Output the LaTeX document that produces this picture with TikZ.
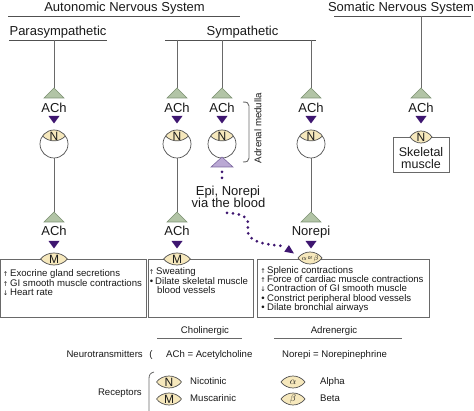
\documentclass[tikz,border=0pt]{standalone}
\usepackage{fontspec}
\setmainfont{Liberation Sans}
\newfontfamily\symfont{DejaVu Sans}
\usetikzlibrary{arrows.meta}
\definecolor{lgray}{RGB}{80,80,80}
\definecolor{vgray}{RGB}{105,105,105}
\definecolor{greenf}{RGB}{178,196,166}
\definecolor{greend}{RGB}{125,145,115}
\definecolor{purp}{RGB}{62,22,112}
\definecolor{lavf}{RGB}{186,168,212}
\definecolor{lavd}{RGB}{125,105,160}
\definecolor{eyef}{RGB}{246,232,188}
\definecolor{txt}{RGB}{25,25,25}
\tikzset{
 big/.style={font=\fontsize{13pt}{15pt}\selectfont, inner sep=0pt, text=txt},
 mid/.style={font=\fontsize{12.5pt}{14pt}\selectfont, inner sep=0pt, text=txt},
 small/.style={font=\fontsize{9.6pt}{11pt}\selectfont, inner sep=0pt, text=txt},
 rlab/.style={font=\fontsize{12pt}{13pt}\selectfont, inner sep=0pt, text=txt},
 ablab/.style={font=\fontsize{7pt}{7pt}\selectfont, inner sep=0pt, text=txt},
 glab/.style={font=\fontsize{10pt}{10pt}\selectfont, inner sep=0pt, text=txt},
 hline/.style={draw=lgray, line width=0.9pt},
 vline/.style={draw=vgray, line width=0.9pt},
 boxline/.style={draw=vgray, line width=0.8pt},
 eyeline/.style={draw=lgray, line width=0.7pt},
 dotline/.style={draw=purp, line width=3pt, line cap=round, dash pattern=on 0pt off 6pt},
}
\newcommand\GreenTri[2]{%
  \filldraw[fill=greenf, draw=greend, line width=0.6pt] (#1,88) -- ({#1+10},98) -- ({#1-10},98) -- cycle;}
\newcommand\GreenTriLow[2]{%
  \filldraw[fill=greenf, draw=greend, line width=0.6pt] (#1,#2) -- ({#1+10},{#2+10}) -- ({#1-10},{#2+10}) -- cycle;}
\newcommand\PurpTri[2]{%
  \fill[purp] ({#1-5.5},#2) -- ({#1+5.5},#2) -- (#1,{#2+7.5}) -- cycle;}
\newcommand\Eye[6]{%
  \filldraw[fill=eyef, eyeline] ({#2-#4},#3) .. controls ({#2-#4/2},{#3-8}) and ({#2+#4/2},{#3-8}) .. ({#2+#4},#3) .. controls ({#2+#4/2},{#3+8}) and ({#2-#4/2},{#3+8}) .. cycle;
  \node[#6] (#1) at (#2,{#3+0.5}) {#5};}
\newcommand\NBody[2]{%
  \fill[white] (#2,144) circle (14pt);
  \begin{scope}
    \clip (#2,144) circle (14pt);
    \fill[eyef] ({#2-11.5},136) .. controls ({#2-5},142.5) and ({#2+5},142.5) .. ({#2+11.5},136) -- ({#2+16},128) -- ({#2+16},120) -- ({#2-16},120) -- ({#2-16},128) -- cycle;
  \end{scope}
  \draw[eyeline] ({#2-11.5},136) .. controls ({#2-5},142.5) and ({#2+5},142.5) .. ({#2+11.5},136);
  \draw[eyeline] (#2,144) circle (14pt);
  \node[rlab] (#1-n) at (#2,136.5) {N};
  \coordinate (#1-cb) at (#2,158);}
\begin{document}
\begin{tikzpicture}[x=1pt,y=-1pt]
\useasboundingbox (0,0) rectangle (474,411);
\clip (0,0) rectangle (474,411);

% headings
\node[big, anchor=base] (ans) at (124.5,12) {Autonomic Nervous System};
\draw[hline] (8,16) -- (240,16);
\node[big, anchor=base] (sns) at (401,12) {Somatic Nervous System};
\draw[hline] (334,16) -- (471,16);
\node[big, anchor=base] (para) at (58,36) {Parasympathetic};
\draw[hline] (9,40) -- (107,40);
\node[big, anchor=base] (symp) at (242.5,36) {Sympathetic};
\draw[hline] (165,40) -- (316,40);

% upper columns
\foreach \n/\x/\ty in {pa/54/40, sa/177/40, sb/222/40, sc/311/40, so/421/16}{
  \coordinate (\n-top) at (\x,\ty);
  \coordinate (\n-g1) at (\x,88);
  \draw[vline] (\n-top) -- (\n-g1);
  \GreenTri{\x}{88}
  \node[big, anchor=base] (\n-ach) at (\x,113) {ACh};
  \PurpTri{\x}{116}
}
\foreach \n/\x in {pa/54, sa/177, sb/222, sc/311}{
  \NBody{\n}{\x}
}

% somatic target
\draw[boxline] (393,137) rectangle (449,172);
\Eye{so-n}{421}{137}{11}{N}{rlab}
\node[mid, anchor=base] (skel) at (421,157) {Skeletal};
\node[mid, anchor=base] (musc) at (421,168.5) {muscle};

% adrenal medulla
\draw[vline] (243,102) .. controls (247,102) and (249,103) .. (249,106) -- (249,158) .. controls (249,161) and (247,162) .. (243,162);
\node[font=\fontsize{9.7pt}{11pt}\selectfont, inner sep=0pt, text=txt, rotate=90] (adm) at (258,128) {Adrenal medulla};
\filldraw[fill=lavf, draw=lavd, line width=0.6pt] (222,157) -- (233,167) -- (211,167) -- cycle;
\coordinate (sb-lav) at (222,167);
\node[big, anchor=base] (epi) at (228,196) {Epi, Norepi};
\node[big, anchor=base] (blood) at (228.5,208) {via the blood};
\draw[dotline] ([yshift=-5pt]sb-lav) -- ([yshift=4pt]epi.north -| sb-lav);

% boxes
\draw[boxline] (0.5,259) rectangle (146,317);
\draw[boxline] (148,259) rectangle (253,317);
\draw[boxline] (257,259) rectangle (429,317);

% lower columns
\foreach \n/\x/\lab in {pa/54/ACh, sa/177/ACh, sc/311/Norepi}{
  \coordinate (\n-g2) at (\x,212);
  \draw[vline] (\n-cb) -- (\n-g2);
  \GreenTriLow{\x}{212}
  \node[big, anchor=base] (\n-lab2) at (\x,236) {\lab};
  \PurpTri{\x}{241}
}
\Eye{pa-m}{54}{259}{13.5}{M}{rlab}
\Eye{sa-m}{177}{259}{13.5}{M}{rlab}
\Eye{sc-ab}{310}{258}{12}{$\alpha$\,{\fontsize{5pt}{5pt}\selectfont\raisebox{1.2pt}{or}}\,$\beta$}{ablab}

% blood route
\coordinate (bl-s) at (227,213);
\coordinate (bl-e) at (284,246);
\draw[dotline] (bl-s) .. controls (240,213) and (250,217) .. (248,226) .. controls (246,236) and (250,244) .. (bl-e);
\fill[purp] (294,253.5) -- (284.3,251.7) -- (288.9,245.1) -- cycle;

% box texts
\newcommand\up{{\symfont\fontsize{6.5pt}{6.5pt}\selectfont ↑}}
\newcommand\dn{{\symfont\fontsize{6.5pt}{6.5pt}\selectfont ↓}}
\node[small, anchor=base] (b1a) at (5.5,277) {\up};
\node[small, anchor=base west] (b1at) at (10,277) {Exocrine gland secretions};
\node[small, anchor=base] (b1b) at (5.5,286.5) {\up};
\node[small, anchor=base west] (b1bt) at (10,286.5) {GI smooth muscle contractions};
\node[small, anchor=base] (b1c) at (5.5,296) {\dn};
\node[small, anchor=base west] (b1ct) at (10,296) {Heart rate};

\node[small, anchor=base] (b2a) at (151.5,275) {\up};
\node[small, anchor=base west] (b2at) at (156,275) {Sweating};
\node[small, anchor=base] (b2b) at (151.5,285) {•};
\node[small, anchor=base west] (b2bt) at (155,285) {Dilate skeletal muscle};
\node[small, anchor=base west] (b2ct) at (157,294) {blood vessels};

\node[small, anchor=base] (b3a) at (263,273.5) {\up};
\node[small, anchor=base west] (b3at) at (267,273.5) {Splenic contractions};
\node[small, anchor=base] (b3b) at (263,282.7) {\up};
\node[small, anchor=base west] (b3bt) at (267,282.7) {Force of cardiac muscle contractions};
\node[small, anchor=base] (b3c) at (263,291.9) {\dn};
\node[small, anchor=base west] (b3ct) at (267,291.9) {Contraction of GI smooth muscle};
\node[small, anchor=base] (b3d) at (263,301.1) {•};
\node[small, anchor=base west] (b3dt) at (267,301.1) {Constrict peripheral blood vessels};
\node[small, anchor=base] (b3e) at (263,310.3) {•};
\node[small, anchor=base west] (b3et) at (267,310.3) {Dilate bronchial airways};

% legend
\node[small, anchor=base] (chol) at (205,334) {Cholinergic};
\draw[vline, line width=0.8pt] (157,338) -- (242,338);
\node[small, anchor=base] (adr) at (334,334) {Adrenergic};
\draw[vline, line width=0.8pt] (274,338) -- (402,338);
\node[small, anchor=base east] (nt) at (143,358) {Neurotransmitters};
\node[small, anchor=base] (ntp) at (151,358) {(};
\node[small, anchor=base west] (achd) at (166,358) {ACh = Acetylcholine};
\node[small, anchor=base west] (nord) at (282,358) {Norepi = Norepinephrine};
\node[small, anchor=base east] (rec) at (142,396) {Receptors};
\draw[vline, line width=0.8pt] (154,372) .. controls (150,373) and (149,375) .. (149,379) -- (149,420);
\Eye{lg-n}{169}{382}{12.5}{N}{rlab}
\Eye{lg-m}{169}{399}{12.5}{M}{rlab}
\Eye{lg-a}{293}{382}{12}{$\alpha$}{glab}
\Eye{lg-b}{293}{399}{12}{$\beta$}{glab}
\node[small, anchor=base west] (nic) at (190,385) {Nicotinic};
\node[small, anchor=base west] (mus) at (190,402) {Muscarinic};
\node[small, anchor=base west] (alp) at (320,385) {Alpha};
\node[small, anchor=base west] (bet) at (320,402) {Beta};
\end{tikzpicture}
\end{document}
